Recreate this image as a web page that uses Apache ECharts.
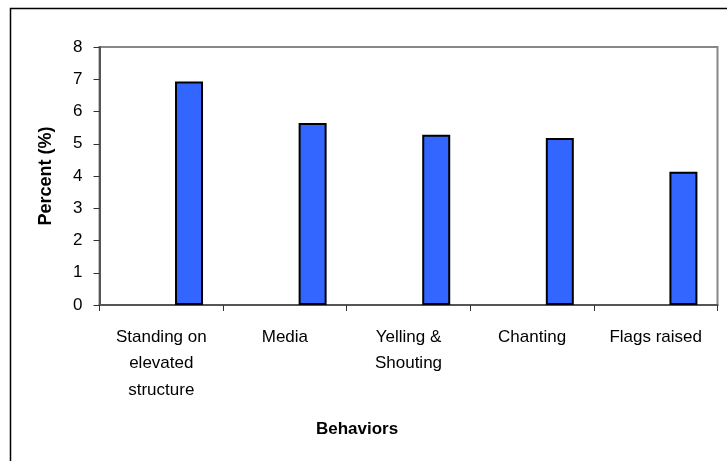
<!DOCTYPE html>
<html>
<head>
<meta charset="utf-8">
<script src="https://cdn.jsdelivr.net/npm/echarts@6/dist/echarts.min.js"></script>
<style>
  html, body { margin: 0; padding: 0; background: #fff; }
  #chart { width: 727px; height: 461px; }
</style>
</head>
<body>
<div id="chart"></div>
<script>
// ==============================
// data
// ==============================
const behaviors = ['Standing on\nelevated\nstructure', 'Media', 'Yelling &\nShouting', 'Chanting', 'Flags raised'];
const percentValues = [6.93, 5.64, 5.28, 5.18, 4.13];
// empty first series (Excel leaves a slot before the bar)
const emptySlot = ['-', '-', '-', '-', '-'];
const yTicks = [0, 1, 2, 3, 4, 5, 6, 7, 8];

const font = 'Liberation Sans, Arial, sans-serif';

const chart = echarts.init(document.getElementById('chart'));

chart.setOption({
  animation: false,
  title: {
    text: 'Behaviors',
    left: 352,
    top: 416,
    textAlign: 'center',
    textStyle: { fontFamily: font, fontSize: 17, fontWeight: 'bold', color: '#000' }
  },
  graphic: [{
    type: 'rect',
    shape: { x: 10.5, y: 8.5, width: 760, height: 500 },
    style: { fill: 'none', stroke: '#000', lineWidth: 1.5 },
    silent: true
  }],
  grid: {
    left: 99.5,
    right: 9.5,
    top: 47,
    bottom: 156,
    show: true,
    borderColor: '#888',
    borderWidth: 2
  },
  xAxis: {
    type: 'category',
    data: behaviors,
    axisLine: { lineStyle: { color: '#555', width: 2 } },
    axisTick: { show: true, length: 6, lineStyle: { color: '#333', width: 1 } },
    axisLabel: {
      interval: 0,
      margin: 19,
      fontFamily: font,
      fontSize: 17,
      lineHeight: 26.5,
      color: '#000'
    }
  },
  yAxis: {
    type: 'value',
    min: yTicks[0],
    max: yTicks[yTicks.length - 1],
    interval: 1,
    name: 'Percent (%)',
    nameLocation: 'middle',
    nameGap: 44,
    nameTextStyle: { fontFamily: font, fontSize: 18, fontWeight: 'bold', color: '#000' },
    axisLine: { show: true, lineStyle: { color: '#555', width: 2 } },
    axisTick: { show: true, length: 6, lineStyle: { color: '#333', width: 1 } },
    splitLine: { show: false },
    axisLabel: {
      margin: 17,
      fontFamily: font,
      fontSize: 17,
      color: '#000'
    }
  },
  series: [
    {
      type: 'bar',
      data: emptySlot,
      barWidth: 28,
      barGap: '98%',
      silent: true
    },
    {
      type: 'bar',
      data: percentValues,
      barWidth: 28,
      barGap: '98%',
      itemStyle: { color: '#3366FF', borderColor: '#000', borderWidth: 2 }
    }
  ]
});
</script>
</body>
</html>
